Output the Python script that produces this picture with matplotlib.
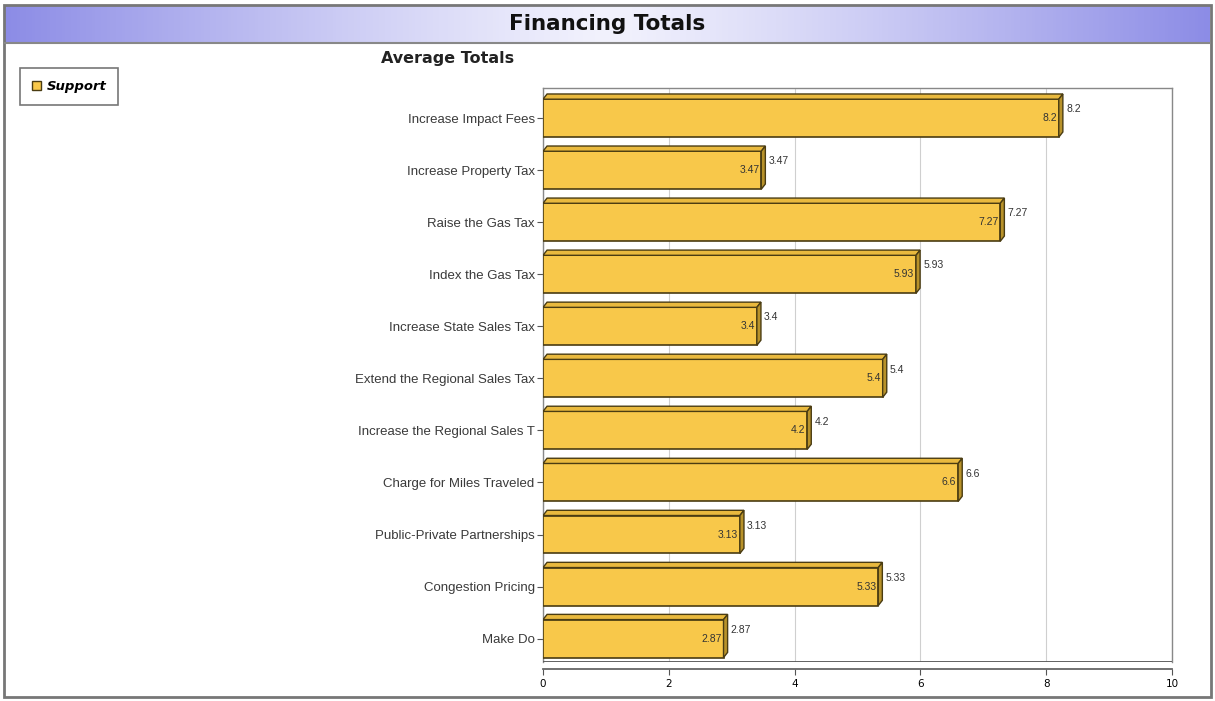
import numpy as np
import matplotlib
matplotlib.use("Agg")
import matplotlib.pyplot as plt
from matplotlib.patches import Polygon, Patch, Rectangle

categories = ["Increase Impact Fees", "Increase Property Tax", "Raise the Gas Tax",
              "Index the Gas Tax", "Increase State Sales Tax", "Extend the Regional Sales Tax",
              "Increase the Regional Sales T", "Charge for Miles Traveled",
              "Public-Private Partnerships", "Congestion Pricing", "Make Do"]
values = [8.2, 3.47, 7.27, 5.93, 3.4, 5.4, 4.2, 6.6, 3.13, 5.33, 2.87]
ticks = [0, 2, 4, 6, 8, 10]

W, H = 1215, 701
fig = plt.figure(figsize=(W / 100, H / 100), dpi=100)

# outer frame
fig.patches.append(Rectangle((4 / W, 4 / H), 1 - 8 / W, 1 - 9 / H, transform=fig.transFigure,
                             fill=False, edgecolor="#777777", linewidth=2))

# title band with gradient
band = fig.add_axes([5 / W, 1 - 42 / H, 1 - 10 / W, 37 / H])
t = np.linspace(-1, 1, 400)
w = np.abs(t) ** 1.2
edge = np.array([140, 140, 230]) / 255
mid = np.array([242, 242, 253]) / 255
grad = (mid[None, :] * (1 - w[:, None]) + edge[None, :] * w[:, None])[None, :, :]
band.imshow(grad, aspect="auto", extent=[0, 1, 0, 1])
band.set_axis_off()
band.text(0.5, 0.5, "Financing Totals", ha="center", va="center", fontsize=15.5,
          fontweight="bold", color="#111111", transform=band.transAxes)
fig.lines.append(plt.Line2D([5 / W, 1 - 5 / W], [1 - 43 / H, 1 - 43 / H], transform=fig.transFigure,
                            color="#888888", linewidth=1.5))

fig.text(448 / W, 1 - 58 / H, "Average Totals", ha="center", va="center", fontsize=11.5,
         fontweight="bold", color="#222222")

ax = fig.add_axes([543 / W, 1 - 662 / H, (1172 - 543) / W, (662 - 88) / H])
y = np.arange(len(categories))
face = "#F8C84A"
side = "#B8922A"
edgec = "#4A3C12"
bh = 0.73
dx, dy = 0.065, 0.1

ax.set_xlim(0, 10)
ax.set_ylim(10.45, -0.58)
ax.grid(axis="x", color="#CFCFCF", linewidth=0.8)
ax.set_axisbelow(True)

ax.barh(y, values, height=bh, color=face, edgecolor=edgec, linewidth=1.2, zorder=3)
for yi, v in zip(y, values):
    top = yi - bh / 2
    ax.add_patch(Polygon([(0, top), (v, top), (v + dx, top - dy), (dx, top - dy)],
                         closed=True, facecolor="#E9B93E", edgecolor=edgec, linewidth=1, zorder=3))
    ax.add_patch(Polygon([(v, top), (v + dx, top - dy), (v + dx, yi + bh / 2 - dy), (v, yi + bh / 2)],
                         closed=True, facecolor=side, edgecolor=edgec, linewidth=1, zorder=3))
    lbl = f"{v:g}"
    ax.text(v - 0.03, yi, lbl, ha="right", va="center", fontsize=7.5, color="#333333",
            family="Liberation Sans", zorder=4)
    ax.text(v + dx + 0.05, yi - 0.17, lbl, ha="left", va="center", fontsize=7.5, color="#333333",
            family="Liberation Sans", zorder=4)

ax.set_yticks(y)
ax.set_yticklabels(categories, fontsize=9.5, color="#3A3A3A", family="Liberation Sans")
ax.set_xticks(ticks)
ax.set_xticklabels([str(v) for v in ticks], fontsize=7.5, color="#333333", family="Liberation Sans")
ax.tick_params(axis="y", length=4, color="#555555", pad=2)
ax.tick_params(axis="x", length=4, color="#555555", pad=3, labelsize=7.5)
for s in ax.spines.values():
    s.set_color("#888888")
    s.set_linewidth(1)
ax.spines["bottom"].set_position(("outward", 5))
ax.spines["bottom"].set_color("#666666")
ax.spines["bottom"].set_linewidth(1.3)
ax.axhline(ax.get_ylim()[0], color="#555555", linewidth=1.3, zorder=5)

leg = fig.legend(handles=[Patch(facecolor=face, edgecolor=edgec, label="Support")],
                 loc="upper left", bbox_to_anchor=(20 / W, 1 - 68 / H), frameon=True,
                 fancybox=False, handlelength=0.7, handleheight=0.7, handletextpad=0.4,
                 borderpad=0.9, borderaxespad=0,
                 prop={"weight": "bold", "style": "italic", "size": 9.5})
leg.get_frame().set_edgecolor("#555555")
leg.get_frame().set_linewidth(1.2)

fig.savefig("out.png", dpi=100)
